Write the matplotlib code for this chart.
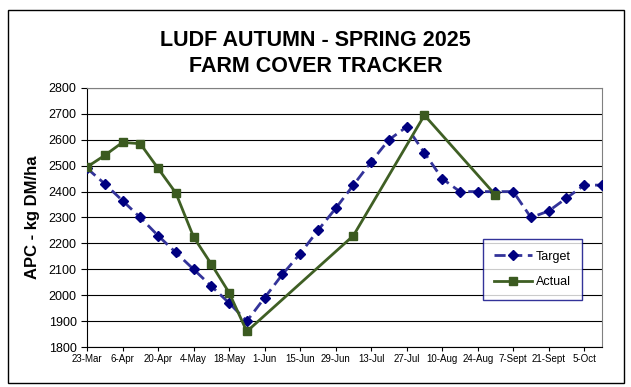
from datetime import date, timedelta

import matplotlib

matplotlib.use("Agg")
import matplotlib.dates as mdates
import matplotlib.pyplot as plt
from matplotlib.patches import Rectangle

plt.rcParams["font.family"] = ["Liberation Sans", "DejaVu Sans"]

start = date(2025, 3, 23)

# target: weekly from 23-Mar
target_weeks = list(range(30))
target_values = [2490, 2430, 2365, 2300, 2230, 2165, 2100, 2035, 1970, 1900,
                 1990, 2080, 2160, 2250, 2335, 2425, 2515, 2600, 2650, 2550,
                 2450, 2400, 2400, 2400, 2400, 2300, 2325, 2375, 2425, 2425]

# actual: only measured weeks
actual_weeks = [0, 1, 2, 3, 4, 5, 6, 7, 8, 9, 15, 19, 23]
actual_values = [2495, 2540, 2590, 2585, 2490, 2395, 2225, 2120, 2010, 1860,
                 2230, 2695, 2387]

tick_labels = ["23-Mar", "6-Apr", "20-Apr", "4-May", "18-May", "1-Jun", "15-Jun",
               "29-Jun", "13-Jul", "27-Jul", "10-Aug", "24-Aug", "7-Sept",
               "21-Sept", "5-Oct"]

target_dates = [start + timedelta(weeks=w) for w in target_weeks]
actual_dates = [start + timedelta(weeks=w) for w in actual_weeks]
tick_dates = [start + timedelta(days=14 * i) for i in range(len(tick_labels))]

fig = plt.figure(figsize=(6.31, 3.87), dpi=100)
fig.patches.append(Rectangle((8 / 631, 1 - 383 / 387), 616 / 631, 373 / 387,
                             transform=fig.transFigure, fill=False,
                             edgecolor="black", linewidth=1.0))

ax = fig.add_axes([87 / 631, 1 - 347 / 387, 515 / 631, 259 / 387])

ax.plot(target_dates, target_values, color="#333399", linestyle=(0, (4, 2)),
        linewidth=2.0, marker="D", markersize=5.5, markerfacecolor="#000080",
        markeredgecolor="#000080", label="Target", zorder=3)
ax.plot(actual_dates, actual_values, color="#3f5f24", linewidth=2.0,
        marker="s", markersize=6, markerfacecolor="#3b5a20",
        markeredgecolor="#3b5a20", label="Actual", zorder=4)

ax.set_ylim(1800, 2800)
ax.set_yticks(range(1800, 2801, 100))
ax.set_xlim(start, start + timedelta(days=203))
ax.set_xticks([mdates.date2num(d) for d in tick_dates])
ax.set_xticklabels(tick_labels, fontsize=7)
ax.tick_params(axis="y", labelsize=9, length=4, direction="out", width=0.8)
ax.tick_params(axis="x", length=3, direction="out", width=0.8, pad=2)
ax.grid(axis="y", color="black", linewidth=0.8)
ax.set_axisbelow(True)

for side in ("top", "right"):
    ax.spines[side].set_color("#808080")
for side in ("left", "bottom"):
    ax.spines[side].set_color("black")

ax.set_ylabel("APC - kg DM/ha", fontsize=12, fontweight="bold", labelpad=6)

title_font = ["Liberation Sans Narrow", "Liberation Sans", "DejaVu Sans"]
fig.text(0.5, 1 - 40 / 387, "LUDF AUTUMN - SPRING 2025", ha="center",
         va="center", fontsize=15.5, fontweight="bold", family=title_font)
fig.text(0.5, 1 - 67 / 387, "FARM COVER TRACKER", ha="center",
         va="center", fontsize=15.5, fontweight="bold", family=title_font)

leg = ax.legend(loc="upper left", bbox_to_anchor=(0.757, 0.44), fontsize=9,
                frameon=True, fancybox=False, handlelength=3.0,
                labelspacing=1.1, borderpad=0.9, handletextpad=0.3)
leg.get_frame().set_edgecolor("#000080")
leg.get_frame().set_linewidth(1.0)

fig.savefig("out.png", dpi=100)
